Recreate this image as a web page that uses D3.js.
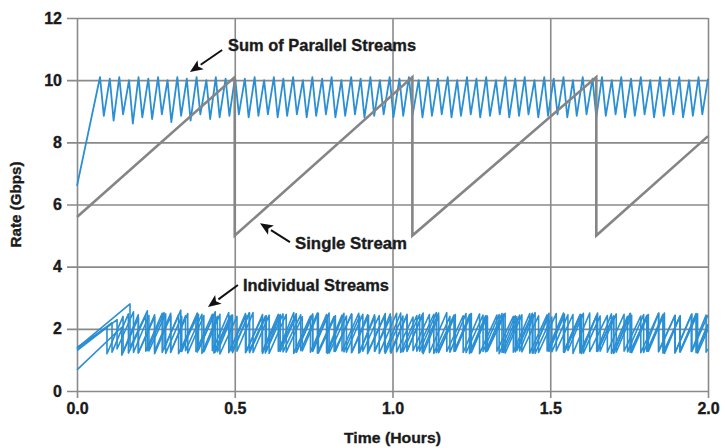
<!DOCTYPE html>
<html><head><meta charset="utf-8">
<script src="https://cdn.jsdelivr.net/npm/d3@7"></script>
<style>
body{margin:0;background:#fff}
text{font-family:"Liberation Sans","Arial",sans-serif;font-weight:bold;fill:#1a1a1a;stroke:#1a1a1a;stroke-width:0.35px}
</style>
</head><body>
<svg id="chart" width="725" height="448"></svg>
<script>
// ---------- data ----------
const xTicks = [0, 0.5, 1.0, 1.5, 2.0];
const yTicks = [0, 2, 4, 6, 8, 10, 12];

// Single stream (gray)
const singleTime = [0, 0.5, 0.5, 1.063, 1.063, 1.646, 1.646, 2.0];
const singleRate = [5.6, 10.1, 5.0, 10.1, 5.0, 10.1, 5.0, 8.2];

// Sum of parallel streams (blue zigzag)
const sumTime = [0,
0.073,0.085, 0.104,0.116, 0.134,0.146, 0.165,0.177, 0.195,0.207,
0.226,0.238, 0.257,0.269, 0.287,0.299, 0.318,0.330, 0.348,0.360,
0.379,0.391, 0.410,0.422, 0.440,0.452, 0.471,0.483, 0.501,0.513,
0.532,0.544, 0.563,0.575, 0.593,0.605, 0.624,0.636, 0.654,0.666,
0.685,0.697, 0.716,0.728, 0.746,0.758, 0.777,0.789, 0.807,0.819,
0.838,0.850, 0.869,0.881, 0.899,0.911, 0.930,0.942, 0.960,0.972,
0.991,1.003, 1.022,1.034, 1.052,1.064, 1.083,1.095, 1.113,1.125,
1.144,1.156, 1.175,1.187, 1.205,1.217, 1.236,1.248, 1.266,1.278,
1.297,1.309, 1.328,1.340, 1.358,1.370, 1.389,1.401, 1.419,1.431,
1.450,1.462, 1.481,1.493, 1.511,1.523, 1.542,1.554, 1.572,1.584,
1.603,1.615, 1.634,1.646, 1.664,1.676, 1.695,1.707, 1.725,1.737,
1.756,1.768, 1.787,1.799, 1.817,1.829, 1.848,1.860, 1.878,1.890,
1.909,1.921, 1.940,1.952, 1.970,1.982,
2.000];
const sumRate = [6.6,
10.1,8.85, 10.05,8.7, 10.1,8.9, 10.0,8.6, 10.1,8.8,
10.05,8.75, 10.1,8.9, 10.0,8.65, 10.1,8.85, 10.05,8.7,
10.1,8.9, 10.0,8.75, 10.1,8.8, 10.05,8.85, 10.1,8.9,
10.05,8.8, 10.1,8.85, 10.0,8.9, 10.1,8.8, 10.05,8.85,
10.1,8.9, 10.0,8.8, 10.1,8.85, 10.05,8.9, 10.1,8.8,
10.0,8.85, 10.1,8.9, 10.05,8.8, 10.1,8.85, 10.0,8.9,
10.1,8.8, 10.05,8.85, 10.1,8.9, 10.0,8.8, 10.1,8.85,
10.05,8.9, 10.1,8.8, 10.0,8.85, 10.1,8.9, 10.05,8.8,
10.1,8.85, 10.0,8.9, 10.1,8.8, 10.05,8.85, 10.1,8.9,
10.0,8.8, 10.1,8.85, 10.05,8.9, 10.1,8.8, 10.0,8.85,
10.1,8.9, 10.05,8.8, 10.1,8.85, 10.0,8.9, 10.1,8.8,
10.05,8.85, 10.1,8.9, 10.0,8.8, 10.1,8.85, 10.05,8.9,
10.1,8.8, 10.0,8.85, 10.1,8.9,
10.05];

// Individual streams: start value, drop times, peak before drop, trough after drop, end value
const streamStart = [1.40, 1.35, 1.30, 1.38, 0.68];
const streamEnd   = [1.35, 1.98, 2.10, 2.44, 2.15];

const s1Drop = [0.095,0.146,0.194,0.246,0.297,0.344,0.396,0.445,0.493,0.546,0.597,0.644,0.695,0.747,0.794,0.846,0.896,0.943,0.995,1.046,1.094,1.146,1.197,1.244,1.295,1.347,1.394,1.445,1.496,1.543,1.595,1.647,1.694,1.745,1.796,1.844,1.895,1.947,1.994];
const s1Peak = [2.05,2.40,2.45,2.38,2.50,2.42,2.47,2.40,2.44,2.52,2.41,2.46,2.39,2.48,2.43,2.50,2.41,2.45,2.38,2.47,2.44,2.51,2.40,2.46,2.42,2.49,2.39,2.45,2.50,2.41,2.47,2.43,2.48,2.40,2.46,2.51,2.42,2.45,2.44];
const s1Trough = [1.20,1.25,1.22,1.28,1.24,1.30,1.21,1.26,1.23,1.29,1.22,1.27,1.25,1.30,1.21,1.26,1.24,1.28,1.22,1.27,1.25,1.23,1.29,1.21,1.26,1.24,1.30,1.22,1.27,1.25,1.23,1.28,1.21,1.26,1.24,1.29,1.22,1.27,1.25];

const s2Drop = [0.111,0.163,0.218,0.270,0.322,0.377,0.429,0.481,0.536,0.588,0.640,0.695,0.747,0.799,0.854,0.906,0.958,1.013,1.065,1.117,1.172,1.224,1.276,1.331,1.383,1.435,1.490,1.542,1.594,1.649,1.701,1.753,1.808,1.860,1.912,1.967];
const s2Peak = [2.20,2.48,2.42,2.50,2.45,2.39,2.47,2.52,2.43,2.46,2.40,2.49,2.44,2.51,2.41,2.47,2.43,2.50,2.38,2.46,2.52,2.42,2.48,2.44,2.40,2.49,2.45,2.51,2.43,2.47,2.41,2.50,2.44,2.46,2.42,2.48];
const s2Trough = [1.25,1.22,1.28,1.24,1.20,1.27,1.30,1.23,1.26,1.21,1.29,1.24,1.27,1.22,1.25,1.28,1.21,1.26,1.30,1.23,1.27,1.24,1.20,1.28,1.25,1.22,1.29,1.26,1.23,1.27,1.21,1.25,1.28,1.24,1.26,1.22];

const s3Drop = [0.127,0.179,0.228,0.281,0.332,0.381,0.434,0.485,0.534,0.587,0.638,0.687,0.740,0.791,0.840,0.893,0.944,0.993,1.046,1.097,1.146,1.199,1.250,1.299,1.352,1.403,1.452,1.505,1.556,1.605,1.658,1.709,1.758,1.811,1.862,1.911,1.964];
const s3Peak = [2.30,2.55,2.43,2.48,2.40,2.51,2.45,2.42,2.49,2.38,2.47,2.52,2.41,2.46,2.44,2.50,2.39,2.48,2.43,2.51,2.40,2.46,2.49,2.42,2.47,2.44,2.52,2.38,2.45,2.50,2.41,2.48,2.43,2.46,2.51,2.40,2.47];
const s3Trough = [1.35,1.24,1.29,1.21,1.27,1.25,1.22,1.30,1.23,1.26,1.28,1.21,1.25,1.24,1.29,1.22,1.27,1.26,1.30,1.20,1.25,1.28,1.23,1.27,1.24,1.29,1.21,1.26,1.30,1.22,1.28,1.25,1.23,1.27,1.21,1.26,1.24];

const s4Drop = [0.168,0.223,0.276,0.329,0.385,0.438,0.491,0.547,0.600,0.653,0.709,0.762,0.815,0.871,0.924,0.977,1.033,1.086,1.139,1.195,1.248,1.301,1.357,1.410,1.463,1.519,1.572,1.625,1.681,1.734,1.787,1.843,1.896,1.949];
const s4Peak = [2.80,2.58,2.52,2.60,2.47,2.55,2.44,2.50,2.42,2.48,2.45,2.51,2.40,2.47,2.43,2.49,2.41,2.46,2.52,2.44,2.48,2.40,2.50,2.45,2.42,2.49,2.46,2.51,2.43,2.47,2.41,2.50,2.44,2.48];
const s4Trough = [1.40,1.30,1.35,1.27,1.32,1.25,1.29,1.23,1.28,1.26,1.30,1.22,1.27,1.24,1.29,1.21,1.26,1.28,1.23,1.27,1.25,1.30,1.22,1.26,1.24,1.29,1.21,1.27,1.25,1.28,1.23,1.26,1.24,1.27];

const s5Drop = [0.142,0.195,0.246,0.297,0.351,0.402,0.453,0.507,0.558,0.609,0.663,0.714,0.765,0.819,0.870,0.921,0.975,1.026,1.077,1.131,1.182,1.233,1.287,1.338,1.389,1.443,1.494,1.545,1.599,1.650,1.701,1.755,1.806,1.857,1.911,1.962];
const s5Peak = [2.05,2.36,2.45,2.41,2.49,2.43,2.47,2.40,2.52,2.44,2.46,2.39,2.50,2.42,2.48,2.45,2.41,2.51,2.43,2.47,2.40,2.49,2.44,2.46,2.42,2.50,2.38,2.47,2.45,2.51,2.41,2.48,2.43,2.46,2.40,2.49];
const s5Trough = [1.15,1.23,1.20,1.27,1.22,1.26,1.19,1.28,1.24,1.21,1.25,1.29,1.22,1.27,1.23,1.20,1.26,1.24,1.28,1.21,1.25,1.23,1.27,1.20,1.26,1.22,1.29,1.24,1.21,1.27,1.23,1.25,1.28,1.22,1.26,1.24];

// Annotations (text, in data units)
const annLabels = ["Sum of Parallel Streams", "Single Stream", "Individual Streams"];
const annTextPos = [[0.479, 11.13], [0.691, 4.76], [0.526, 3.41]];
const annArrowTail = [[0.460, 10.97], [0.675, 4.79], [0.510, 3.41]];
const annArrowHead = [[0.358, 10.26], [0.580, 5.40], [0.415, 2.70]];
const annWidths = [188, 112, 146];

// ---------- drawing ----------
const svg = d3.select("#chart");
const x = d3.scaleLinear().domain([0, 2]).range([77, 708]);
const y = d3.scaleLinear().domain([0, 12]).range([391, 18]);

const gridColor = "#8a8a8a";
const blue = "#2a8fd3";
const gray = "#858585";

// y grid + labels
const yAxis = svg.append("g").attr("transform", "translate(708,0)")
  .call(d3.axisLeft(y).tickValues(yTicks).tickSize(641).tickPadding(5).tickFormat(d3.format("d")));
yAxis.select(".domain").remove();
yAxis.selectAll("line").attr("stroke", gridColor).attr("stroke-width", 1.6);
yAxis.selectAll("text").attr("font-size", 16).attr("fill", "#1a1a1a");

// x grid + labels
const xAxis = svg.append("g").attr("transform", "translate(0,18)")
  .call(d3.axisBottom(x).tickValues(xTicks).tickSize(380).tickPadding(5).tickFormat(d3.format(".1f")));
xAxis.select(".domain").remove();
xAxis.selectAll("line").attr("stroke", gridColor).attr("stroke-width", 1.6);
xAxis.selectAll("text").attr("font-size", 16).attr("fill", "#1a1a1a");

const line = d3.line().x(d => x(d[0])).y(d => y(d[1]));

// individual streams
const streams = [
  [s1Drop, s1Peak, s1Trough],
  [s2Drop, s2Peak, s2Trough],
  [s3Drop, s3Peak, s3Trough],
  [s4Drop, s4Peak, s4Trough],
  [s5Drop, s5Peak, s5Trough]
];
streams.forEach((s, i) => {
  const pts = [[0, streamStart[i]]];
  s[0].forEach((t, j) => { pts.push([t, s[1][j]]); pts.push([t, s[2][j]]); });
  pts.push([2.0, streamEnd[i]]);
  svg.append("path").attr("d", line(pts)).attr("fill", "none")
    .attr("stroke", blue).attr("stroke-width", 1.6).attr("stroke-linejoin", "round");
});

// sum of parallel streams
const sumPts = sumTime.map((t, i) => [t, sumRate[i]]);
svg.append("path").attr("d", line(sumPts)).attr("fill", "none")
  .attr("stroke", blue).attr("stroke-width", 1.8).attr("stroke-linejoin", "round");

// single stream
const singlePts = singleTime.map((t, i) => [t, singleRate[i]]);
svg.append("path").attr("d", line(singlePts)).attr("fill", "none")
  .attr("stroke", gray).attr("stroke-width", 2.6).attr("stroke-linejoin", "miter");

// annotations
annLabels.forEach((lab, i) => {
  const tx = x(annTextPos[i][0]), ty = y(annTextPos[i][1]);
  svg.append("text").attr("x", tx).attr("y", ty).attr("dy", "0.36em")
    .attr("font-size", 17).attr("textLength", annWidths[i]).attr("lengthAdjust", "spacingAndGlyphs")
    .text(lab);
  const x1 = x(annArrowTail[i][0]), y1 = y(annArrowTail[i][1]);
  const x2 = x(annArrowHead[i][0]), y2 = y(annArrowHead[i][1]);
  const ang = Math.atan2(y2 - y1, x2 - x1);
  const L = 13, W = 5.5;
  const bx = x2 - L * Math.cos(ang), by = y2 - L * Math.sin(ang);
  svg.append("line").attr("x1", x1).attr("y1", y1).attr("x2", bx).attr("y2", by)
    .attr("stroke", "#111").attr("stroke-width", 2);
  const p1 = [bx + W * Math.sin(ang), by - W * Math.cos(ang)];
  const p2 = [bx - W * Math.sin(ang), by + W * Math.cos(ang)];
  svg.append("path").attr("d", `M${x2},${y2}L${p1[0]},${p1[1]}L${bx + 3*Math.cos(ang)},${by + 3*Math.sin(ang)}L${p2[0]},${p2[1]}Z`)
    .attr("fill", "#111");
});

// axis titles
svg.append("text").attr("x", x(1.0)).attr("y", 437).attr("dy", "0.36em")
  .attr("text-anchor", "middle").attr("font-size", 15.5)
  .attr("textLength", 97).attr("lengthAdjust", "spacingAndGlyphs").text("Time (Hours)");
svg.append("text").attr("transform", `translate(16,${y(6)}) rotate(-90)`).attr("dy", "0.36em")
  .attr("text-anchor", "middle").attr("font-size", 14.5)
  .attr("textLength", 86).attr("lengthAdjust", "spacingAndGlyphs").text("Rate (Gbps)");
</script>
</body></html>
